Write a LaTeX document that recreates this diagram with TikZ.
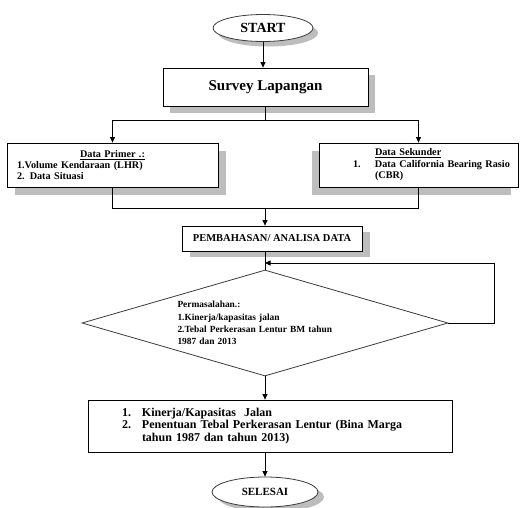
\documentclass[tikz,border=0pt]{standalone}
\usepackage{fontspec}
\setmainfont{Liberation Serif}
\usepackage{tikz}
\usetikzlibrary{positioning,arrows.meta,shapes.geometric,shadows,calc}
\definecolor{shadeGray}{HTML}{BDBDBD}
\definecolor{lineGray}{HTML}{3A3A3A}

\begin{document}
\begin{tikzpicture}[x=1pt, y=1pt,
  font=\bfseries,
  shade/.style 2 args={general shadow={shadow xshift=#1, shadow yshift=#2, fill=shadeGray}},
  term/.style={ellipse, draw=lineGray, line width=0.8pt, fill=white, inner sep=0pt},
  box/.style={rectangle, draw=black, line width=0.8pt, fill=white, inner sep=3pt},
  arr/.style={-{Triangle[length=5.5pt, width=5pt]}, line width=0.8pt}
]
\useasboundingbox (0,0) rectangle (520,-507);

\node[term, shade={5pt}{-5pt}, minimum width=100pt, minimum height=27pt,
  font=\fontsize{14}{16}\selectfont\bfseries] (start) at (263,-28) {START};

\node[box, shade={7pt}{-7pt}, minimum width=205pt, minimum height=38pt,
  font=\fontsize{15}{17}\selectfont\bfseries] (survey) at (265.5,-87) {Survey Lapangan};

\node[box, shade={8pt}{-8pt}, minimum width=211pt, minimum height=44pt,
  text width=191pt, align=left, font=\fontsize{10.2}{10.8}\selectfont\bfseries] (primer) at (112.5,-165)
  {\makebox[191pt]{\underline{Data Primer .:}}\\
   1.Volume Kendaraan (LHR)\\
   2. Data Situasi};

\node[box, shade={-7pt}{-8pt}, minimum width=199pt, minimum height=44pt,
  text width=189pt, align=left, font=\fontsize{10.2}{11.5}\selectfont\bfseries] (sekunder) at (418.5,-165)
  {\hspace*{51pt}\underline{Data Sekunder}\\
   \hspace*{29pt}\makebox[22pt][l]{1.}Data California Bearing Rasio\\
   \hspace*{51pt}(CBR)};

\node[box, shade={8pt}{-6pt}, minimum width=180pt, minimum height=25pt,
  font=\fontsize{10.5}{12}\selectfont\bfseries] (pemb) at (272,-238.5) {PEMBAHASAN/ ANALISA DATA};

\node[diamond, draw=lineGray, line width=0.8pt, aspect=3.45, inner sep=0pt,
  minimum width=366pt, minimum height=106pt, text width=175pt, align=left,
  font=\fontsize{9.4}{12.3}\selectfont\bfseries] (dia) at (265,-323)
  {Permasalahan.:\\
   1.Kinerja/kapasitas jalan\\
   2.Tebal Perkerasan Lentur BM tahun\\
   1987 dan 2013};

\node[box, minimum width=364pt, minimum height=52pt, text width=296pt, align=left,
  font=\fontsize{12}{12.5}\selectfont\bfseries] (result) at (270,-426)
  {\makebox[20pt][l]{1.}Kinerja/Kapasitas~ Jalan\\
   \makebox[20pt][l]{2.}Penentuan Tebal Perkerasan Lentur (Bina Marga\\
   \hspace*{20pt}tahun 1987 dan tahun 2013)};

\node[term, shade={6pt}{-5pt}, minimum width=106pt, minimum height=30pt,
  font=\fontsize{11}{13}\selectfont\bfseries] (selesai) at (265,-492) {SELESAI};

% connectors
\draw[arr] (start.south) -- (start.south |- survey.north);
\draw (survey.south -| 265,0) -- ++(0,-14) coordinate (split);
\draw[arr] (split) -| (primer.north);
\draw[arr] (split) -| (sekunder.north);

\coordinate (merge) at (265,-208);
\draw (primer.south) |- (merge);
\draw (sekunder.south) |- (merge);
\draw[arr] (merge) -- (merge |- pemb.north);

\draw (dia.north |- pemb.south) -- (dia.north);
\coordinate (back) at (265,-263);
\draw[arr] (dia.east) -- ++(46,0) |- (back);

\draw[arr] (dia.south) -- (dia.south |- result.north);
\draw[arr] (selesai.north |- result.south) -- (selesai.north);

\end{tikzpicture}
\end{document}
